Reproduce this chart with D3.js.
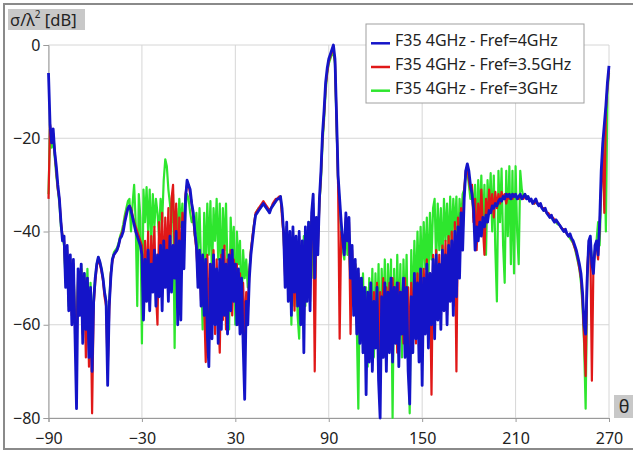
<!DOCTYPE html>
<html>
<head>
<meta charset="utf-8">
<script src="https://cdn.jsdelivr.net/npm/d3@7"></script>
<style>
body { margin: 0; background: #fff; }
text { font-family: "Noto Sans", "Open Sans", sans-serif; fill: #222; }
</style>
</head>
<body>
<svg id="chart" width="633" height="451"></svg>
<script>
// sample angles, 1 degree apart
var thetaDeg = d3.range(-90, 271, 1)

// sigma/lambda^2 [dB], one row = 10 degrees
var fref4 = [
  -6, -17, -21, -18, -23, -26, -30, -33, -38, -42,        // -90
  -41, -52, -43, -57, -45, -60, -46, -62, -78, -48,       // -80
  -58, -47, -64, -49, -61, -50, -67, -52, -70, -55,       // -70
  -50, -47, -45.5, -46.5, -48, -50, -53, -55, -73, -56,   // -60
  -50, -46, -45, -44.5, -44, -43, -41.5, -41, -40, -38,   // -50
  -36.5, -35, -34.5, -35.5, -37, -38.5, -40, -41, -42, -43, // -40
  -45, -59, -46, -55, -44, -57, -47, -53, -44, -56,       // -30
  -45, -54, -43, -57, -42, -52, -44, -55, -41, -53,       // -20
  -43, -50, -40, -60, -42, -59, -38, -48, -33, -29,       // -10
  -30, -31, -34, -36, -40, -43, -52, -44, -56, -45,       // 0
  -58, -46, -62, -69, -47, -63, -45, -60, -48, -64,       // 10
  -46, -61, -44, -58, -47, -62, -45, -57, -44, -55,       // 20
  -47, -60, -48, -62, -50, -64, -76, -55, -60, -50,       // 30
  -45, -42, -39, -36.5, -36, -35.5, -35, -34.5, -34, -34.5, // 40
  -35, -35.5, -36, -35, -34.5, -34, -33.5, -33, -33, -32.5, // 50
  -35, -40, -52, -38, -55, -40, -58, -39, -53, -41,       // 60
  -56, -40, -60, -42, -66, -39, -55, -38, -57, -36,       // 70
  -32, -50, -37, -45, -33, -27, -19, -14, -8, -5,         // 80
  -3, -2, -1, 0, -3, -15, -28, -33, -38, -42,             // 90
  -45, -36, -42, -37, -50, -43, -58, -46, -62, -48,       // 100
  -64, -50, -66, -52, -75, -53, -68, -51, -70, -55,       // 110
  -65, -52, -72, -80, -54, -67, -51, -70, -53, -66,       // 120
  -50, -68, -52, -64, -51, -69, -53, -62, -50, -67,       // 130
  -52, -70, -77, -54, -66, -49, -63, -51, -68, -48,       // 140
  -73, -50, -62, -47, -65, -49, -60, -46, -63, -45,       // 150
  -59, -47, -61, -44, -57, -45, -60, -43, -55, -42,       // 160
  -58, -40, -54, -39, -50, -36, -44, -33, -27, -25.5,     // 170
  -27, -30, -32, -35, -44, -39, -42, -38, -41, -37,       // 180
  -39, -36.5, -38, -35.5, -36, -34.5, -35, -34, -34.5, -33.5, // 190
  -33, -33.5, -32.5, -33, -32, -32.5, -32, -33, -32, -32.5, // 200
  -32, -33, -32.5, -32, -33, -32.5, -32, -33, -32.5, -33.5, // 210
  -33, -34, -33.5, -33, -34, -34.5, -34, -35, -35.5, -35, // 220
  -36, -36.5, -37, -36.5, -37.5, -38, -37.5, -38, -38.5, -39, // 230
  -39.5, -40, -39.5, -40.5, -41, -40.5, -41.5, -42, -43, -44, // 240
  -45.5, -47, -49, -53, -60, -62, -50, -42, -41, -47,     // 250
  -49, -43, -42, -45, -38, -27, -21, -17, -13, -8,        // 260
  -4.5                                                    // 270
]

var fref35 = [
  -33, -17, -21, -19, -23, -27, -31, -33, -38, -41,
  -42, -50, -44, -55, -46, -58, -47, -60, -66, -49,
  -57, -48, -62, -50, -67, -51, -69, -53, -79, -56,
  -51, -47.5, -46, -47, -48.5, -50.5, -54, -56, -70, -57,
  -49, -46.5, -45, -44.5, -44, -43, -41.5, -40.5, -39.5, -37.5,
  -36, -35, -34.5, -35, -36.5, -38, -39, -40, -41, -42,
  -43, -56, -42, -52, -40, -55, -41, -50, -39, -53,
  -60, -38, -49, -36, -52, -37, -47, -35, -50, -33,
  -30, -44, -34, -53, -37, -49, -36, -42, -32, -30,
  -30, -32, -34, -37, -41, -44, -50, -45, -55, -47,
  -56, -68, -45, -60, -47, -58, -44, -62, -46, -57,
  -66, -45, -59, -43, -61, -46, -56, -44, -58, -46,
  -54, -47, -60, -49, -58, -51, -62, -53, -57, -49,
  -44, -41, -38.5, -36, -35.5, -35, -34.5, -34, -33.5, -34,
  -34.5, -35, -35.5, -35, -34, -33.5, -33, -33, -32.5, -32.5,
  -37, -41, -50, -39, -53, -41, -55, -40, -57, -42,
  -54, -41, -58, -43, -60, -40, -53, -39, -55, -37,
  -35, -70, -38, -44, -34, -28, -20, -15, -9, -6,
  -3.5, -2.5, -1.5, -1, -3.5, -16, -30, -63, -40, -43,
  -44, -37, -41, -38, -62, -44, -56, -47, -60, -49,
  -62, -51, -64, -52, -66, -54, -65, -52, -68, -53,
  -64, -51, -67, -53, -63, -50, -66, -52, -62, -51,
  -64, -50, -60, -52, -66, -51, -61, -53, -64, -50,
  -62, -52, -67, -51, -60, -50, -64, -49, -61, -50,
  -58, -48, -60, -46, -62, -49, -75, -45, -58, -44,
  -57, -45, -59, -43, -55, -42, -58, -41, -54, -40,
  -56, -38, -70, -37, -48, -35, -41, -31, -27, -26,
  -29, -31, -30, -38, -33, -44, -34, -40, -31, -39,
  -45, -33, -38, -31, -36, -32, -37, -31.5, -35, -32,
  -34, -31.5, -33, -32, -34, -32, -33, -32.5, -33, -32,
  -32.5, -32.5, -33, -32.5, -32.5, -33, -32.5, -32.5, -33, -33,
  -33.5, -33.5, -34, -33.5, -34, -34, -34.5, -35, -35, -35.5,
  -36, -36, -36.5, -37, -37, -37.5, -38, -38, -38.5, -39,
  -39.5, -39.5, -40, -40.5, -41, -41, -41.5, -42.5, -43.5, -44.5,
  -46, -48, -50, -55, -63, -71, -48, -43, -42, -72,
  -47, -44, -43, -46, -39, -30, -22, -36, -14, -9,
  -5.5
]

var fref3 = [
  -32, -18, -22, -20, -24, -28, -31, -34, -39, -41,
  -43, -51, -45, -56, -46, -55, -48, -58, -60, -50,
  -55, -47, -58, -49, -60, -48, -62, -51, -64, -54,
  -50, -47, -45.5, -46.5, -48, -50, -53, -55, -62, -55,
  -49, -46, -44.5, -44, -43.5, -42.5, -41, -40, -38.5, -36.5,
  -35, -33.5, -33, -40, -34, -30, -38, -56, -32, -37,
  -64, -31, -38, -30.5, -40, -31, -43, -32, -39, -33,
  -36, -41, -33, -38, -29, -24.5, -26, -31, -34, -38,
  -32, -65, -35, -42, -33, -39, -34, -44, -35, -32,
  -33, -36, -38, -37, -41, -36, -44, -35, -47, -61,
  -36, -48, -34, -45, -33.5, -50, -35, -42, -33, -46,
  -34, -52, -35, -44, -34, -48, -61, -37, -45, -39,
  -60, -40, -47, -42, -58, -44, -50, -46, -52, -48,
  -44, -41.5, -38.5, -36.5, -35.5, -35, -35, -34.5, -34, -34.5,
  -35, -35.5, -35.5, -35, -34.5, -34, -33.5, -33, -33, -32.5,
  -36, -41, -48, -39, -52, -42, -60, -40, -56, -43,
  -58, -63, -45, -54, -41, -56, -40, -52, -38, -50,
  -34, -45, -38, -42, -34, -29, -21, -16, -10, -6,
  -4, -3, -2, -1.5, -4, -17, -29, -34, -40, -44,
  -46, -38, -45, -40, -52, -46, -55, -47, -60, -78,
  -50, -63, -49, -66, -52, -69, -50, -64, -48, -67,
  -49, -62, -47, -70, -48, -60, -46, -66, -47, -58,
  -46, -80, -48, -63, -45, -61, -47, -67, -46, -59,
  -45, -64, -79, -44, -58, -42, -55, -40, -52, -39,
  -50, -38, -48, -37, -51, -36, -46, -35, -33, -47,
  -34, -44, -35, -48, -33, -42, -34, -45, -32.5, -43,
  -33, -40, -32.5, -46, -33, -38, -32, -31, -28, -27,
  -30, -33, -31, -37, -30, -42, -29, -38, -28, -40,
  -30, -45, -29, -36, -27.5, -40, -28, -44, -55, -27,
  -38, -26.5, -43, -51, -27, -41, -26, -47, -27, -49,
  -26, -40, -47, -27, -31, -32.5, -32, -32.5, -32.5, -33,
  -33.5, -33.5, -34, -33.5, -34, -34.5, -34.5, -35, -35.5, -35.5,
  -36, -36.5, -36.5, -37, -37.5, -37.5, -38, -38.5, -38.5, -39,
  -39.5, -40, -40, -40.5, -41, -41.5, -42, -42.5, -43.5, -45,
  -46.5, -48, -51, -56, -64, -78, -50, -44, -42, -46,
  -48, -44, -42, -38, -43, -31, -23, -19, -40, -10,
  -6
]

var seriesNames = ["F35 4GHz - Fref=4GHz", "F35 4GHz - Fref=3.5GHz", "F35 4GHz - Fref=3GHz"]
var xTicks = [-90, -30, 30, 90, 150, 210, 270]
var yTicks = [0, -20, -40, -60, -80]

var colors = ['#1414c8', '#e01818', '#2ee62e']

var svg = d3.select('#chart')

// outer frame
svg.append('rect')
  .attr('x', 4).attr('y', 4)
  .attr('width', 640).attr('height', 445)
  .style('fill', 'none')
  .style('stroke', '#8a8a8a')
  .style('stroke-width', 2)

var x = d3.scaleLinear().domain([-90, 270]).range([48.5, 609])
var y = d3.scaleLinear().domain([-80, 0]).range([418, 45])

// grid
svg.append('g').selectAll('line')
  .data(xTicks)
  .enter().append('line')
  .attr('x1', function(d) { return x(d) })
  .attr('x2', function(d) { return x(d) })
  .attr('y1', y(0)).attr('y2', y(-80))
  .style('stroke', '#d6d6d6')
svg.append('g').selectAll('line')
  .data(yTicks)
  .enter().append('line')
  .attr('x1', x(-90)).attr('x2', x(270))
  .attr('y1', function(d) { return y(d) })
  .attr('y2', function(d) { return y(d) })
  .style('stroke', '#d6d6d6')

// axes
var yAxis = svg.append('g')
  .attr('transform', 'translate(' + x(-90) + ',0)')
  .call(d3.axisLeft(y).tickValues(yTicks).tickSize(5).tickPadding(3))
var xAxis = svg.append('g')
  .attr('transform', 'translate(0,' + y(-80) + ')')
  .call(d3.axisBottom(x).tickValues(xTicks).tickSize(4).tickPadding(11))

svg.selectAll('.domain, .tick line').style('stroke', '#9a9a9a')
svg.selectAll('.tick text')
  .style('font-size', '16px')
  .style('font-family', '"Noto Sans", sans-serif')
  .style('fill', '#222')

// curves, green under red under blue
var allSeries = [fref4, fref35, fref3]
var line = d3.line()
  .x(function(d, i) { return x(thetaDeg[i]) })
  .y(function(d) { return y(d) })

var widths = [2.8, 2.2, 2.2]
;[2, 1, 0].forEach(function(k) {
  svg.append('path')
    .datum(allSeries[k])
    .attr('d', line)
    .style('fill', 'none')
    .style('stroke', colors[k])
    .style('stroke-width', widths[k])
    .style('stroke-linejoin', 'round')
})

// axis title boxes
svg.append('rect')
  .attr('x', 8).attr('y', 9)
  .attr('width', 77).attr('height', 21)
  .style('fill', '#c8c8c8')
var yTitle = svg.append('text')
  .attr('x', 10).attr('y', 26)
  .style('font-size', '16.5px')
yTitle.append('tspan').text('σ/λ')
yTitle.append('tspan').attr('dy', -8).style('font-size', '10px').text('2')
yTitle.append('tspan').attr('dy', 8).text(' [dB]')

svg.append('rect')
  .attr('x', 614).attr('y', 395)
  .attr('width', 20).attr('height', 23)
  .style('fill', '#c8c8c8')
svg.append('text')
  .attr('x', 624).attr('y', 413)
  .style('text-anchor', 'middle')
  .style('font-size', '18px')
  .text('θ')

// legend
var legend = svg.append('g')
legend.append('rect')
  .attr('x', 366).attr('y', 24)
  .attr('width', 218).attr('height', 79)
  .style('fill', '#fff')
  .style('stroke', '#a0a0a0')

seriesNames.forEach(function(name, i) {
  var ly = 43.3 + i * 23.7
  legend.append('line')
    .attr('x1', 371).attr('x2', 390)
    .attr('y1', ly).attr('y2', ly)
    .style('stroke', colors[i])
    .style('stroke-width', 2.5)
  legend.append('text')
    .attr('x', 395).attr('y', ly + 3)
    .style('font-size', '16px')
    .text(name)
})
</script>
